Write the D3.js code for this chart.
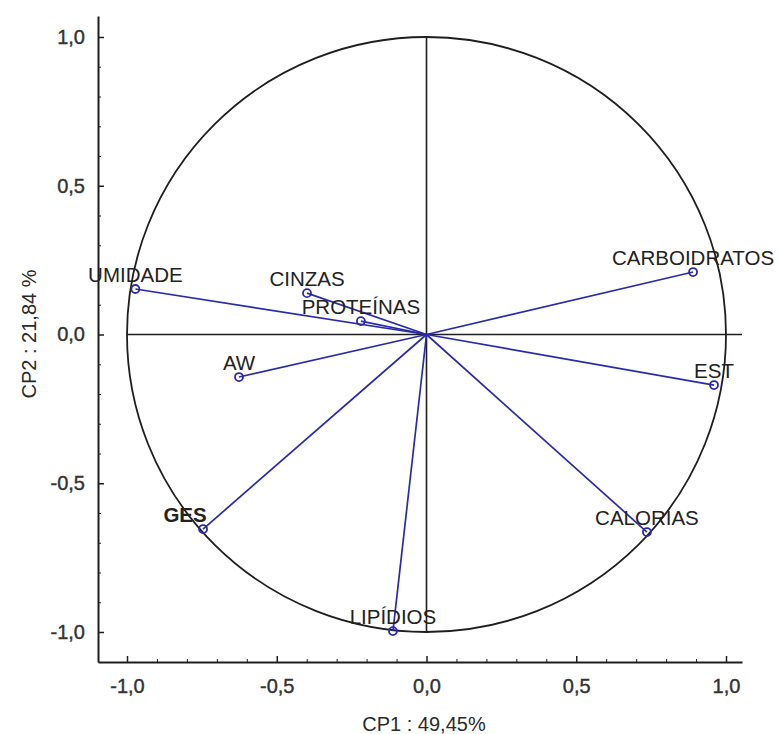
<!DOCTYPE html>
<html>
<head>
<meta charset="utf-8">
<script src="https://cdn.jsdelivr.net/npm/d3@7"></script>
<style>
  html, body { margin: 0; padding: 0; background: #ffffff; }
  svg { display: block; font-family: "Liberation Sans", Arial, sans-serif; }
</style>
</head>
<body>
<svg id="chart" width="778" height="734"></svg>
<script>
// Loadings of each variable on the first two principal components
const variables = ["UMIDADE", "CINZAS", "PROTEÍNAS", "AW", "CARBOIDRATOS", "EST", "GES", "LIPÍDIOS", "CALORIAS"];
const cp1 = [-0.972, -0.399, -0.219, -0.626, 0.890, 0.960, -0.746, -0.112, 0.736];
const cp2 = [0.153, 0.139, 0.045, -0.143, 0.210, -0.170, -0.654, -0.997, -0.664];
const majorTicks = [-1.0, -0.5, 0.0, 0.5, 1.0];
const xTitle = "CP1 : 49,45%";
const yTitle = "CP2 : 21,84 %";

const svg = d3.select("#chart");
const blue = "#2a2aac";
const ink = "#1e1e1e";

// Unit scales: -1..1 on each component
const x = d3.scaleLinear().domain([-1, 1]).range([127, 726]);
const y = d3.scaleLinear().domain([-1, 1]).range([632, 37]);

// Axis frames extend a little beyond the unit circle
const xFrame = x.copy().domain([x.invert(98), x.invert(742)]).range([98, 742]);
const yFrame = y.copy().domain([y.invert(662), y.invert(16)]).range([662, 16]);
const fmt = d => d3.format(".1f")(d).replace(".", ",").replace("−", "-");

// Minor ticks every 0.1
const minor = d3.range(-10, 11).map(i => i / 10).filter(v => Math.abs(v * 2 - Math.round(v * 2)) > 1e-6);

function styleAxis(g) {
  g.select(".domain").attr("stroke", ink).attr("stroke-width", 2);
  g.selectAll(".tick line").attr("stroke", ink).attr("stroke-width", 1.5);
  g.selectAll(".tick text")
    .attr("fill", "#333").attr("stroke", "#333").attr("stroke-width", 0.4)
    .attr("font-size", 20).attr("font-family", "Liberation Sans, Arial, sans-serif");
}

// Bottom axis
const gx = svg.append("g").attr("transform", "translate(0,662)")
  .call(d3.axisBottom(xFrame).tickValues(majorTicks).tickFormat(fmt)
    .tickSizeInner(-6).tickSizeOuter(0).tickPadding(17));
styleAxis(gx);
svg.append("g").attr("transform", "translate(0,662)")
  .call(d3.axisBottom(xFrame).tickValues(minor).tickFormat("").tickSizeInner(-3).tickSizeOuter(0))
  .call(g => g.select(".domain").remove())
  .call(g => g.selectAll(".tick line").attr("stroke", ink).attr("stroke-width", 1));

// Left axis
const gy = svg.append("g").attr("transform", "translate(98,0)")
  .call(d3.axisLeft(yFrame).tickValues(majorTicks).tickFormat(fmt)
    .tickSizeInner(-6).tickSizeOuter(0).tickPadding(13));
styleAxis(gy);
svg.append("g").attr("transform", "translate(98,0)")
  .call(d3.axisLeft(yFrame).tickValues(minor).tickFormat("").tickSizeInner(-3).tickSizeOuter(0))
  .call(g => g.select(".domain").remove())
  .call(g => g.selectAll(".tick line").attr("stroke", ink).attr("stroke-width", 1));

// Axis titles
svg.append("text")
  .attr("x", 424).attr("y", 731)
  .attr("text-anchor", "middle")
  .attr("font-size", 20).attr("fill", "#2a2a2a")
  .text(xTitle);
svg.append("text")
  .attr("transform", "translate(36,334) rotate(-90)")
  .attr("text-anchor", "middle")
  .attr("font-size", 20).attr("fill", "#2a2a2a")
  .text(yTitle);

// Correlation circle
svg.append("ellipse")
  .attr("cx", x(0)).attr("cy", y(0))
  .attr("rx", x(1) - x(0)).attr("ry", y(-1) - y(0))
  .attr("fill", "none").attr("stroke", ink).attr("stroke-width", 1.8);

// Reference lines through the origin
svg.append("line")
  .attr("x1", x(-1)).attr("x2", xFrame.range()[1])
  .attr("y1", y(0)).attr("y2", y(0))
  .attr("stroke", ink).attr("stroke-width", 1.6);
svg.append("line")
  .attr("x1", x(0)).attr("x2", x(0))
  .attr("y1", y(1)).attr("y2", y(-1))
  .attr("stroke", ink).attr("stroke-width", 1.6);

const pts = variables.map((name, i) => ({ name, a: cp1[i], b: cp2[i] }));

// Loading vectors
svg.append("g").selectAll("line").data(pts).join("line")
  .attr("x1", x(0)).attr("y1", y(0))
  .attr("x2", d => x(d.a)).attr("y2", d => y(d.b))
  .attr("stroke", blue).attr("stroke-width", 1.7);

// Variable labels
const labelShift = { "GES": -18 };
svg.append("g").selectAll("text").data(pts).join("text")
  .attr("x", d => x(d.a) + (labelShift[d.name] || 0))
  .attr("y", d => y(d.b) - 7)
  .attr("text-anchor", "middle")
  .attr("font-size", 20.5).attr("fill", "#222")
  .attr("font-weight", d => d.name === "GES" ? "bold" : "normal")
  .text(d => d.name);

// Endpoint markers
svg.append("g").selectAll("circle").data(pts).join("circle")
  .attr("cx", d => x(d.a)).attr("cy", d => y(d.b))
  .attr("r", 4)
  .attr("fill", "none").attr("stroke", blue).attr("stroke-width", 1.8);
</script>
</body>
</html>
